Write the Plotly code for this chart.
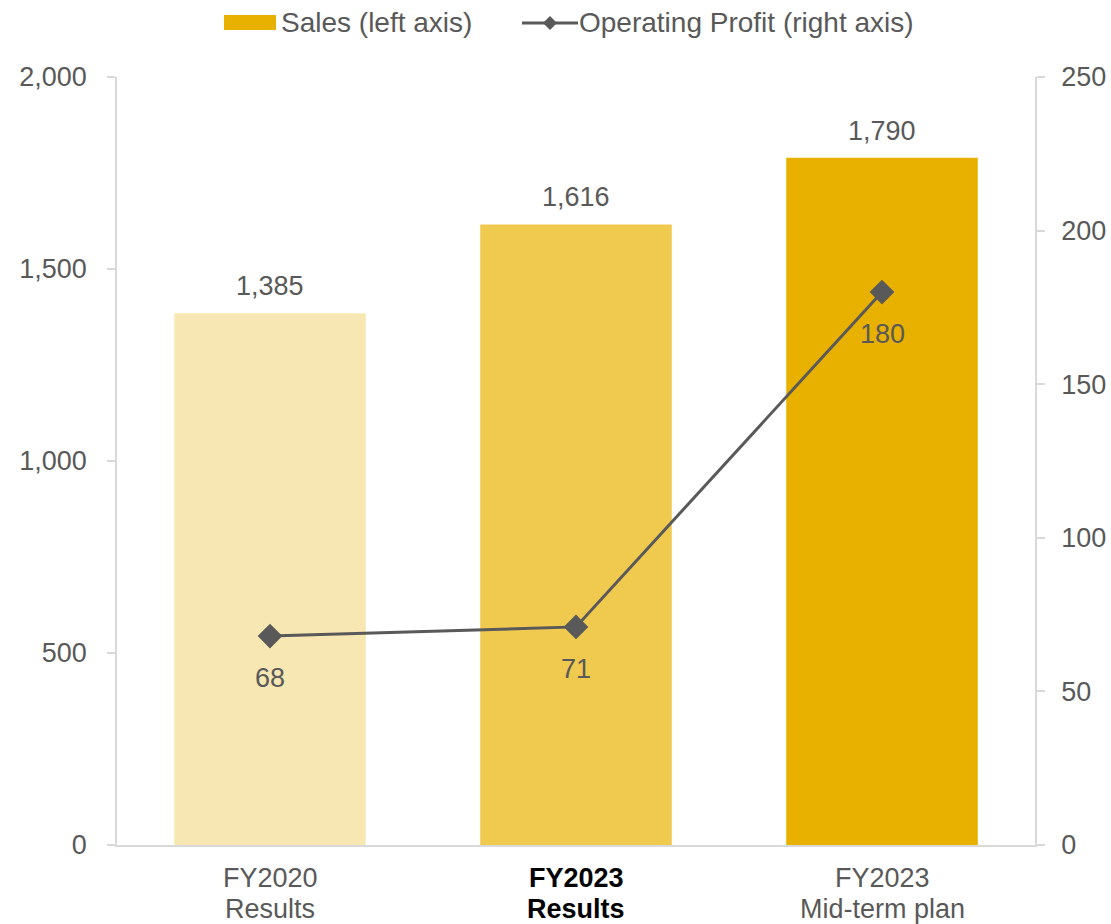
import plotly.graph_objects as go

# Chart data
categories = ["FY2020 Results", "FY2023 Results", "FY2023 Mid-term plan"]
label_line1 = ["FY2020", "FY2023", "FY2023"]
label_line2 = ["Results", "Results", "Mid-term plan"]
label_bold = [False, True, False]
sales = [1385, 1616, 1790]
operating_profit = [68, 71, 180]
bar_colors = ["#F7E7B2", "#F0C94F", "#E8B100"]

TEXT = "#595959"
AXIS = "#D9D9D9"
FONT = "Liberation Sans, Arial, sans-serif"
FS = 27

W, H = 1111, 924
L, R, T, B = 117, 76, 77, 79
pw, ph = W - L - R, H - T - B


def px(x):
    return (x - L) / pw


def py(y):
    return 1 - (y - T) / ph


fig = go.Figure()

fig.add_trace(go.Bar(
    x=categories, y=sales, marker=dict(color=bar_colors, line=dict(width=0)),
    name="Sales (left axis)", showlegend=False, yaxis="y",
))

fig.add_trace(go.Scatter(
    x=categories, y=operating_profit, mode="lines+markers",
    line=dict(color="#595959", width=3),
    marker=dict(symbol="diamond", size=19, color="#595959"),
    name="Operating Profit (right axis)", showlegend=False, yaxis="y2",
))

annotations = []
# Sales labels above the bars
for c, v in zip(categories, sales):
    annotations.append(dict(
        x=c, y=v, xref="x", yref="y", text=f"{v:,}", showarrow=False,
        yanchor="bottom", yshift=10, font=dict(size=FS, color=TEXT, family=FONT),
    ))
# Profit labels below the markers
for c, v in zip(categories, operating_profit):
    annotations.append(dict(
        x=c, y=v, xref="x", yref="y2", text=f"{v:,}", showarrow=False,
        yanchor="top", yshift=-25, font=dict(size=FS, color=TEXT, family=FONT),
    ))

# Two-line category labels under the axis
for c, l1, l2, bold in zip(categories, label_line1, label_line2, label_bold):
    color = "#000000" if bold else TEXT
    for txt, ypix in ((l1, 878), (l2, 909)):
        annotations.append(dict(
            x=c, y=py(ypix), xref="x", yref="paper",
            text=f"<b>{txt}</b>" if bold else txt, showarrow=False,
            xanchor="center", yanchor="middle",
            font=dict(size=FS, color=color, family=FONT),
        ))

# Legend drawn across the top
annotations.append(dict(
    x=px(279), y=py(22), xref="paper", yref="paper", text="Sales (left axis)",
    showarrow=False, xanchor="left", yanchor="middle",
    font=dict(size=28, color=TEXT, family=FONT),
))
annotations.append(dict(
    x=px(577), y=py(22), xref="paper", yref="paper",
    text="Operating Profit (right axis)", showarrow=False,
    xanchor="left", yanchor="middle", font=dict(size=28, color=TEXT, family=FONT),
))

shapes = [
    dict(type="rect", xref="paper", yref="paper",
         x0=px(224), x1=px(276), y0=py(30), y1=py(15),
         fillcolor="#E8B100", line=dict(width=0)),
    dict(type="line", xref="paper", yref="paper",
         x0=px(522), x1=px(578), y0=py(23), y1=py(23),
         line=dict(color="#595959", width=3)),
    dict(type="path", xref="paper", yref="paper",
         path=f"M {px(550)},{py(16)} L {px(557)},{py(23)} L {px(550)},{py(30)} L {px(543)},{py(23)} Z",
         fillcolor="#595959", line=dict(width=0)),
]

fig.update_layout(
    width=W, height=H,
    margin=dict(l=L, r=R, t=T, b=B, pad=0),
    paper_bgcolor="white", plot_bgcolor="white",
    font=dict(family=FONT, size=FS, color=TEXT),
    bargap=0.374,
    showlegend=False,
    annotations=annotations,
    shapes=shapes,
    xaxis=dict(
        showticklabels=False, automargin=False,
        showline=True, linecolor=AXIS, linewidth=1.5,
        ticks="", showgrid=False, zeroline=False,
    ),
    yaxis=dict(
        range=[0, 2000], dtick=500, tickformat=",", automargin=False,
        showline=True, linecolor=AXIS, linewidth=1.5,
        ticks="outside", ticklen=8, tickcolor=AXIS, tickwidth=1.5,
        showgrid=False, zeroline=False,
        tickfont=dict(size=FS, color=TEXT, family=FONT),
        ticklabelstandoff=15,
    ),
    yaxis2=dict(
        range=[0, 250], dtick=50, overlaying="y", side="right", automargin=False,
        showline=True, linecolor=AXIS, linewidth=1.5,
        ticks="outside", ticklen=8, tickcolor=AXIS, tickwidth=1.5,
        showgrid=False, zeroline=False,
        tickfont=dict(size=FS, color=TEXT, family=FONT),
        ticklabelstandoff=11,
    ),
)

fig.write_html("out.html")
